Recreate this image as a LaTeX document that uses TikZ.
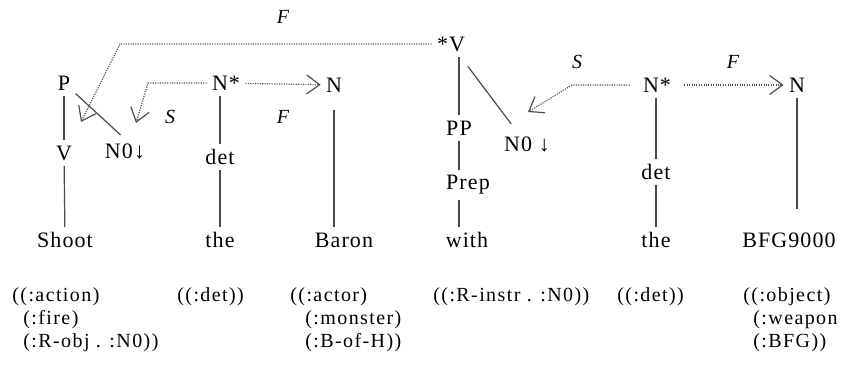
\documentclass[tikz,border=0pt]{standalone}
\usepackage{fontspec}
\setmainfont{Liberation Serif}
\newfontfamily\treefont[LetterSpace=5]{Liberation Serif}
\newfontfamily\lispfont[LetterSpace=7]{Liberation Serif}
\usetikzlibrary{arrows.meta,positioning,calc}
\definecolor{TreeGray}{HTML}{4A4A4A}
\definecolor{LinkGray}{HTML}{4F4F4F}

\begin{document}
\begin{tikzpicture}[x=0.5pt,y=-0.5pt,
  every node/.style={inner sep=2.5pt,font=\treefont\fontsize{11}{13}\selectfont},
  branch/.style={draw=TreeGray,line width=0.6pt},
  link/.style={draw=LinkGray,line width=0.6pt,dash pattern=on 0.55pt off 0.65pt,
    -{Straight Barb[length=6.5pt,width=9.5pt,line width=0.6pt]}},
  rel/.style={font=\treefont\itshape\fontsize{10}{12}\selectfont},
  sem/.style={anchor=north west,align=left,inner sep=0pt,
    font=\lispfont\fontsize{10}{11.5}\selectfont}
]
\useasboundingbox (0,0) rectangle (842,374);

% Shoot
\node (p) at (64,83) {P};
\node (v) at (64,153) {V};
\node (shoot) at (65,240) {Shoot};
\node (n0a) at (125,152) {N0↓};
\draw[branch] (p) -- (v);
\draw[branch] (v) -- (shoot);
\draw[branch,shorten >=3pt] (p) -- (n0a.north);

% the
\node (nsa) at (226,83) {N*};
\node (deta) at (220,157) {det};
\node (thea) at (220,240) {the};
\draw[branch] (deta |- nsa.south) -- (deta);
\draw[branch] (deta) -- (thea);

% Baron
\node (na) at (334,85) {N};
\node (baron) at (344,240) {Baron};
\draw[branch,shorten <=6pt] (na) -- (na |- baron.north);

% with
\node (sva) at (451,44) {*V};
\node (pp) at (459,128) {PP};
\node (prep) at (468,185) {Prep};
\node (with) at (467,240) {with};
\node (n0b) at (527,145) {N0 ↓};
\draw[branch] (pp |- sva.south) -- (pp);
\draw[branch] (pp) -- (pp |- prep.north);
\draw[branch] (pp |- prep.south) -- (pp |- with.north);
\draw[branch,shorten <=6pt,shorten >=5pt] (sva) -- (n0b);

% the
\node (nsb) at (657,85) {N*};
\node (detb) at (656,172) {det};
\node (theb) at (656,240) {the};
\draw[branch] (detb |- nsb.south) -- (detb);
\draw[branch] (detb) -- (theb);

% BFG9000
\node (nb) at (797,85) {N};
\node (bfg) at (789,240) {BFG9000};
\draw[branch,shorten >=9pt] (nb) -- (nb |- bfg.north);

% links
\coordinate (fbend) at (120,44);
\coordinate (fend) at (81,122);
\draw[link] (sva.west) -- (fbend) -- (fend);
\node[rel] (flab) at (283,17) {F};

\coordinate (sabend) at (148,83);
\coordinate (saend) at (136,123);
\draw[link] (nsa.west) -- (sabend) -- (saend);
\node[rel] (slab) at (170,117) {S};
\draw[link] (nsa) -- (na);
\node[rel] (fmid) at (283,117) {F};

\coordinate (sbbend) at (572,85);
\coordinate (sbend) at (528,112);
\draw[link,shorten <=4pt] (nsb.west) -- (sbbend) -- (sbend);
\node[rel] (slabb) at (577,62) {S};
\draw[link,shorten <=4pt] (nsb) -- (nb);
\node[rel] (flabb) at (733,62) {F};

% semantics
\node[sem] (semshoot) at (12,287) {((:action)\\\hspace{5.5pt}(:fire)\\\hspace{5.5pt}(:R-obj . :N0))};
\node[sem] (semthea) at (177,287) {((:det))};
\node[sem] (sembaron) at (290,287) {((:actor)\\\hspace{7.5pt}(:monster)\\\hspace{7.5pt}(:B-of-H))};
\node[sem] (semwith) at (433,287) {((:R-instr . :N0))};
\node[sem] (semtheb) at (617,287) {((:det))};
\node[sem] (sembfg) at (743,287) {((:object)\\\hspace{5pt}(:weapon\\\hspace{5pt}(:BFG))};
\end{tikzpicture}
\end{document}
